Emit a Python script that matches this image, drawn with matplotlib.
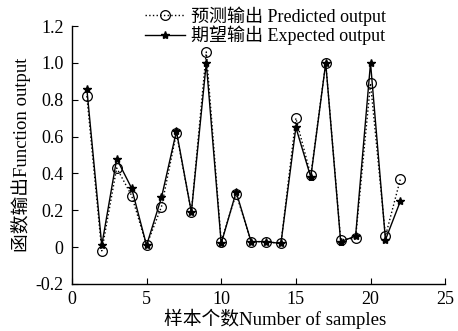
import matplotlib
matplotlib.use("Agg")
import matplotlib.pyplot as plt

plt.rcParams['font.family'] = ['Liberation Serif', 'Noto Sans CJK SC']
plt.rcParams['axes.unicode_minus'] = False

# sample index
samples = list(range(1, 23))
# predicted output (circles, dotted)
predicted = [0.82, -0.02, 0.43, 0.28, 0.01, 0.22, 0.62, 0.19, 1.06, 0.03, 0.29,
             0.03, 0.03, 0.02, 0.70, 0.39, 1.00, 0.04, 0.05, 0.89, 0.06, 0.37]
# expected output (stars, solid)
expected = [0.86, 0.01, 0.48, 0.32, 0.01, 0.27, 0.63, 0.19, 1.00, 0.02, 0.30,
            0.03, 0.03, 0.02, 0.65, 0.38, 1.00, 0.03, 0.06, 1.00, 0.04, 0.25]

xticks = [0, 5, 10, 15, 20, 25]
yticks = [-0.2, 0, 0.2, 0.4, 0.6, 0.8, 1.0, 1.2]
ytick_labels = ["-0.2", "0", "0.2", "0.4", "0.6", "0.8", "1.0", "1.2"]

fig = plt.figure(figsize=(4.58, 3.31), dpi=100)
ax = fig.add_axes([0.157, 0.142, 0.815, 0.779])

ax.plot(samples, predicted, linestyle=':', color='black', linewidth=1.0,
        marker='o', markersize=7, markerfacecolor='none', markeredgecolor='black',
        markeredgewidth=0.9, label='预测输出 Predicted output')
ax.plot(samples, expected, linestyle='-', color='black', linewidth=1.0,
        marker='*', markersize=6, markerfacecolor='black', markeredgecolor='black',
        label='期望输出 Expected output')

ax.set_xlim(0, 25)
ax.set_ylim(-0.2, 1.2)
ax.set_xticks(xticks)
ax.set_xticklabels([str(t) for t in xticks])
ax.set_yticks(yticks)
ax.set_yticklabels(ytick_labels)

for side in ['top', 'right']:
    ax.spines[side].set_visible(False)
ax.spines['left'].set_linewidth(1.0)
ax.spines['bottom'].set_linewidth(1.0)
ax.tick_params(direction='in', length=4, width=0.8, labelsize=13)
ax.tick_params(axis='y', pad=6)
ax.tick_params(axis='x', pad=5)

ax.set_xlabel('样本个数Number of samples', fontsize=13.5, labelpad=1)
ax.xaxis.set_label_coords(0.545, -0.095)
ax.set_ylabel('函数输出Function output', fontsize=13.5, labelpad=3)

fig.legend(loc='upper left', bbox_to_anchor=(0.29, 1.02), frameon=False,
           fontsize=13, handlelength=2.2, handletextpad=0.3,
           labelspacing=0.0, borderpad=0.2)

fig.savefig('out.png', dpi=100, facecolor='white')
